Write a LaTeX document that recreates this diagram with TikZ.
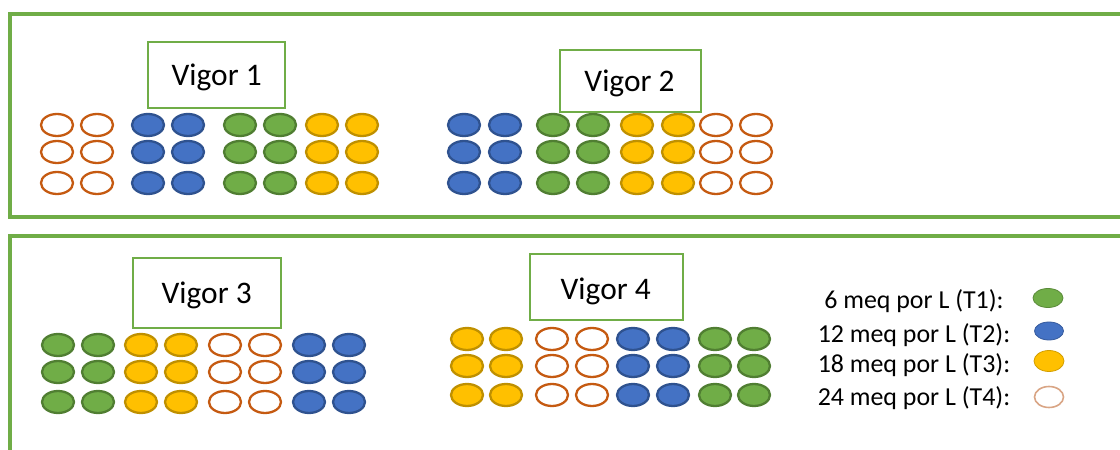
\documentclass[tikz,border=0pt]{standalone}
\usepackage{fontspec}
\setmainfont{Carlito}
\usetikzlibrary{shapes.geometric}
\definecolor{pgreen}{HTML}{70AD47}
\definecolor{cg}{HTML}{70AD47}
\definecolor{cgd}{HTML}{507E32}
\definecolor{cb}{HTML}{4472C4}
\definecolor{cbd}{HTML}{2F528F}
\definecolor{cy}{HTML}{FFC000}
\definecolor{cyd}{HTML}{BF9000}
\definecolor{cr}{HTML}{C55A11}
\definecolor{crl}{HTML}{D9A585}
\begin{document}
\begin{tikzpicture}[x=1bp,y=-1bp,
  panel/.style={draw=pgreen,line width=3.2bp},
  vbox/.style={draw=pgreen,line width=2.6bp,fill=white,inner sep=0pt},
  vtext/.style={anchor=base,inner sep=0pt,font=\fontsize{31.5}{36}\selectfont},
  ltext/.style={anchor=base,inner sep=0pt,font=\fontsize{26}{30}\selectfont},
  ell/.style={ellipse,minimum width=32bp,minimum height=22bp,inner sep=0pt,line width=2.3bp},
  tone/.style={ell,fill=cg,draw=cgd},
  ttwo/.style={ell,fill=cb,draw=cbd},
  tthree/.style={ell,fill=cy,draw=cyd},
  tfour/.style={ell,fill=white,draw=cr},
  lell/.style={ellipse,minimum width=30bp,minimum height=19bp,inner sep=0pt,line width=0.8bp}
]
\useasboundingbox (0,0) rectangle (1120,450);
\clip (0,0) rectangle (1120,450);

% panels
\draw[panel] (10,14) rectangle (1135,217);
\draw[panel] (10,236) rectangle (1135,470);

% Vigor 1
\foreach \x/\s [count=\i] in {57/tfour,97/tfour,148/ttwo,188/ttwo,240/tone,280/tone,322/tthree,362/tthree}{
  \foreach \y [count=\j] in {125,152,183}{
    \node[\s] (a-\i-\j) at (\x,\y) {};
  }
}
\node[vbox,minimum width=137bp,minimum height=66bp] (box1) at (216.5,75) {};
\node[vtext] (lab1) at (216.7,86) {Vigor 1};

% Vigor 2
\foreach \x/\s [count=\i] in {464/ttwo,505/ttwo,553/tone,593/tone,637/tthree,678/tthree,716/tfour,756/tfour}{
  \foreach \y [count=\j] in {125,152,183}{
    \node[\s] (b-\i-\j) at (\x,\y) {};
  }
}
\node[vbox,minimum width=141bp,minimum height=62bp] (box2) at (630.5,81) {};
\node[vtext] (lab2) at (629.5,91.7) {Vigor 2};

% Vigor 3
\foreach \x/\s [count=\i] in {58/tone,98/tone,141/tthree,181/tthree,225/tfour,265/tfour,309/ttwo,349/ttwo}{
  \foreach \y [count=\j] in {345,372,402}{
    \node[\s] (c-\i-\j) at (\x,\y) {};
  }
}
\node[vbox,minimum width=148bp,minimum height=70bp] (box3) at (207,293) {};
\node[vtext] (lab3) at (206.7,304) {Vigor 3};

% Vigor 4
\foreach \x/\s [count=\i] in {467/tthree,506/tthree,552/tfour,592/tfour,633/ttwo,673/ttwo,715/tone,754/tone}{
  \foreach \y [count=\j] in {339,366,395}{
    \node[\s] (d-\i-\j) at (\x,\y) {};
  }
}
\node[vbox,minimum width=153bp,minimum height=66bp] (box4) at (606.5,287) {};
\node[vtext] (lab4) at (605.7,299.3) {Vigor 4};

% legend
\node[ltext] (l1) at (914,309) {6 meq por L (T1):};
\node[ltext] (l2) at (914,343) {12 meq por L (T2):};
\node[ltext] (l3) at (914,373) {18 meq por L (T3):};
\node[ltext] (l4) at (914,406) {24 meq por L (T4):};
\node[lell,fill=cg,draw=cg!80!black] (s1) at (1048,298) {};
\node[lell,fill=cb,draw=cb!80!black,minimum width=29bp,minimum height=18bp] (s2) at (1049,331) {};
\node[lell,fill=cy,draw=cyd!70!cy,minimum height=21bp] (s3) at (1049,361) {};
\node[lell,fill=white,draw=crl,line width=1.6bp,minimum width=29bp,minimum height=21bp] (s4) at (1049,397) {};
\end{tikzpicture}
\end{document}
